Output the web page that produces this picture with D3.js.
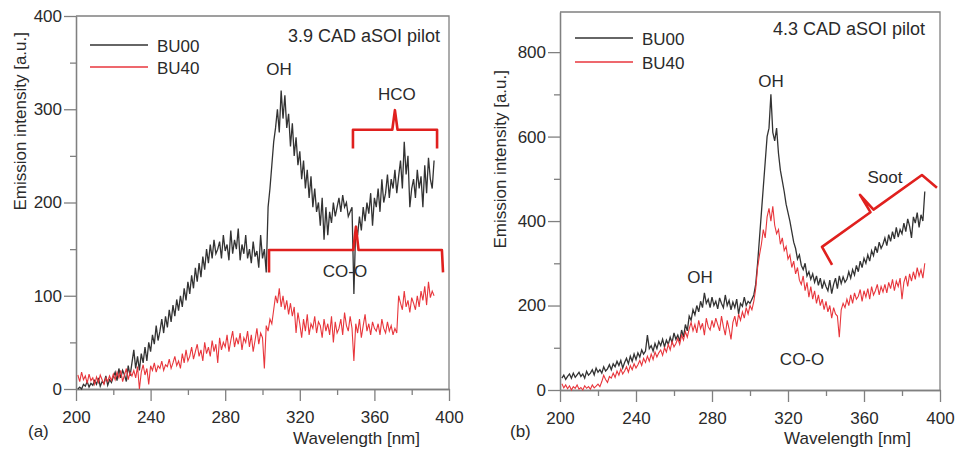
<!DOCTYPE html>
<html>
<head>
<meta charset="utf-8">
<script src="https://cdn.jsdelivr.net/npm/d3@7"></script>
<style>
  body { margin: 0; background: #fff; }
  svg { display: block; font-family: "Liberation Sans", Arial, sans-serif; }
</style>
</head>
<body>
<div id="chart"></div>
<script>
// sample grid of the spectrometer (nm)
var wavelengths = d3.range(201, 393);

// panel (a) 3.9 CAD aSOI pilot
var aBU00 = [
  0, 2, 0, 5, 3, 8, 2, 6, 4, 9,
  5, 12, 3, 8, 6, 14, 4, 10, 7, 13,
  18, 9, 22, 12, 20, 15, 8, 25, 14, 28,
  42, 22, 35, 20, 38, 28, 45, 30, 50, 40,
  58, 48, 68, 52, 62, 75, 60, 78, 66, 85,
  72, 90, 78, 96, 84, 100, 88, 108, 95, 115,
  102, 122, 108, 130, 115, 135, 120, 142, 128, 150,
  135, 155, 140, 160, 145, 150, 158, 140, 165, 148,
  155, 138, 170, 145, 160, 150, 172, 138, 155, 145,
  165, 140, 150, 135, 158, 142, 148, 130, 165, 140,
  150, 125, 195, 215, 240, 265, 280, 300, 275, 320,
  290, 315, 280, 295, 260, 285, 250, 270, 240, 255,
  225, 245, 215, 235, 205, 228, 195, 215, 190, 200,
  175, 205, 160, 195, 165, 190, 178, 200, 185, 195,
  205, 190, 208, 195, 200, 185, 190, 195, 102, 175,
  165, 185, 170, 195, 180, 200, 188, 210, 175, 205,
  195, 215, 190, 225, 200, 210, 230, 205, 225, 215,
  235, 210, 228, 245, 215, 265, 230, 250, 195, 215,
  225, 205, 235, 215, 228, 195, 240, 210, 248, 225,
  215, 245
];
var aBU40 = [
  15, 8, 18, 10, 14, 6, 16, 9, 12, 5,
  13, 7, 15, 10, 5, 12, 8, 14, 9, 16,
  10, 18, 12, 20, 8, 15, 22, 10, 18, 14,
  20, 12, 24, 0, 18, 26, 15, 22, 5, 25,
  20, 28, 18, 25, 22, 30, 20, 26, 24, 32,
  22, 28, 35, 25, 30, 22, 38, 28, 42, 30,
  35, 45, 32, 40, 48, 35, 42, 30, 50, 38,
  45, 35, 52, 40, 48, 28, 55, 42, 50, 45,
  58, 40, 52, 62, 45, 55, 48, 60, 42, 55,
  50, 62, 45, 58, 40, 52, 65, 48, 60, 55,
  22, 68, 62, 75, 70, 85, 100, 92, 108, 88,
  100, 85, 95, 80, 92, 78, 88, 60, 82, 70,
  55, 75, 62, 80, 58, 70, 65, 78, 60, 72,
  68, 55, 75, 62, 70, 58, 78, 50, 72, 60,
  65, 75, 58, 82, 68, 62, 78, 65, 30, 70,
  60, 75, 55, 68, 80, 62, 70, 58, 72, 65,
  62, 70, 58, 75, 65, 60, 72, 62, 68, 58,
  65, 60, 100, 92, 85, 105, 88, 95, 82, 98,
  92, 85, 100, 88, 105, 95, 110, 90, 115, 98,
  105, 100
];

// panel (b) 4.3 CAD aSOI pilot
var bBU00 = [
  28, 35, 25, 32, 38, 28, 40, 30, 36, 42,
  32, 38, 28, 44, 35, 40, 48, 36, 52, 42,
  48, 40, 55, 45, 50, 60, 48, 62, 55, 68,
  58, 70, 52, 65, 75, 62, 80, 68, 85, 72,
  88, 78, 95, 85, 92, 130, 98, 105, 92, 110,
  98, 115, 105, 120, 102, 118, 108, 125, 112, 135,
  120, 130, 115, 142, 125, 155, 140, 175, 165, 190,
  178, 200, 185, 210, 195, 230, 205, 215, 195, 220,
  200, 210, 192, 218, 205, 195, 225, 200, 212, 190,
  208, 195, 215, 180, 205, 198, 220, 200, 210, 205,
  215, 225, 250, 300, 360, 420, 480, 540, 600, 620,
  700, 610, 590, 620, 560, 520, 495, 470, 440, 420,
  400, 375, 350, 335, 310, 320, 295, 285, 300, 270,
  280, 262, 275, 255, 270, 248, 265, 240, 258, 245,
  235, 260, 228, 250, 265, 240, 270, 252, 268, 255,
  262, 280, 265, 285, 272, 295, 280, 305, 290, 312,
  300, 320, 305, 330, 318, 340, 325, 350, 335, 345,
  360, 342, 368, 352, 375, 358, 385, 362, 380, 370,
  395, 375, 405, 388, 360, 410, 395, 420, 385, 415,
  400, 470
];
var bBU40 = [
  15, 5, 12, 3, 10, 0, 8, 4, 12, 2,
  6, 0, 10, 4, 8, 2, 12, 5, 9, 14,
  8, 20, 35, 25, 18, 32, 28, 40, 30, 45,
  35, 50, 38, 45, 55, 42, 58, 48, 62, 52,
  60, 70, 58, 75, 65, 80, 68, 85, 72, 90,
  78, 88, 95, 82, 100, 90, 108, 95, 115, 102,
  110, 122, 108, 130, 118, 138, 125, 145, 160, 140,
  155, 135, 165, 145, 158, 130, 170, 150, 142, 165,
  148, 170, 155, 140, 175, 150, 130, 165, 145, 120,
  160, 175, 150, 180, 165, 185, 170, 195, 180, 200,
  190, 210, 240, 290, 320, 345, 380, 360, 410, 430,
  400, 435, 390, 370, 380, 345, 360, 330, 340, 310,
  320, 290, 305, 275, 290, 260, 250, 270, 235, 255,
  220, 245, 215, 235, 205, 225, 200, 215, 190, 210,
  185, 200, 170, 195, 180, 175, 125, 190, 205, 195,
  215, 200, 225, 205, 230, 215, 222, 238, 210, 235,
  220, 240, 215, 245, 225, 235, 250, 225, 245, 232,
  250, 230, 255, 240, 262, 235, 258, 245, 265, 215,
  255, 270, 245, 275, 258, 280, 262, 290, 270, 285,
  265, 300
];

var seriesNames = ["BU00", "BU40"];
var xTicks = [200, 240, 280, 320, 360, 400];
var xMinorTicks = [220, 260, 300, 340, 380];
var aYTicks = [0, 100, 200, 300, 400];
var aYMinorTicks = [50, 150, 250, 350];
var bYTicks = [0, 200, 400, 600, 800];
var bYMinorTicks = [100, 300, 500, 700];

// band annotations, in data units
var aLabels = [
  { text: "OH", x: 308.8, y: 337 },
  { text: "HCO", x: 372, y: 310 },
  { text: "CO-O", x: 344.2, y: 120 }
];
var bLabels = [
  { text: "OH", x: 311.1, y: 717 },
  { text: "OH", x: 273.7, y: 253 },
  { text: "CO-O", x: 327.4, y: 59 },
  { text: "Soot", x: 371, y: 490 }
];
// braces: [from end, corner, tip base, tip, tip base, corner, to end]
var aBraces = [
  [[348.5, 258], [348.5, 278], [369.6, 278], [371, 299], [372.4, 278], [393.6, 278], [393.6, 258]],
  [[303.5, 125], [303.5, 149], [348.7, 149], [350.1, 174], [351.5, 149], [396.2, 149], [396.8, 125]]
];
var bBraces = [
  [[343.2, 296], [337.9, 339], [363.4, 421], [357.9, 462], [365.0, 427], [390.5, 509], [398.4, 479]]
];

var W = 955, H = 449;
var black = "#333333", red = "#e8363c", braceRed = "#e0201e", axisGrey = "#808080", textCol = "#2a2a2a";

var svg = d3.select("#chart").append("svg")
  .attr("width", W)
  .attr("height", H);

function drawPanel(cfg) {
  var x = d3.scaleLinear().domain([200, 400]).range([cfg.left, cfg.right]);
  var y = d3.scaleLinear().domain([0, cfg.yMax]).range([cfg.bottom, cfg.top]);
  var g = svg.append("g");

  // frame (top + right)
  g.append("path")
    .attr("d", "M" + cfg.left + "," + cfg.top + "H" + cfg.right + "V" + cfg.bottom)
    .attr("fill", "none")
    .attr("stroke", axisGrey)
    .attr("stroke-width", 1.3);

  // axes
  g.append("g")
    .attr("transform", "translate(0," + cfg.bottom + ")")
    .call(d3.axisBottom(x).tickValues(xTicks).tickSize(12).tickSizeOuter(0).tickPadding(10));
  g.append("g")
    .attr("transform", "translate(0," + cfg.bottom + ")")
    .call(d3.axisBottom(x).tickValues(xMinorTicks).tickSize(6).tickSizeOuter(0).tickFormat(""));
  g.append("g")
    .attr("transform", "translate(" + cfg.left + ",0)")
    .call(d3.axisLeft(y).tickValues(cfg.yTicks).tickSize(12).tickSizeOuter(0).tickPadding(2));
  g.append("g")
    .attr("transform", "translate(" + cfg.left + ",0)")
    .call(d3.axisLeft(y).tickValues(cfg.yMinor).tickSize(6).tickSizeOuter(0).tickFormat(""));

  g.selectAll(".domain, .tick line").attr("stroke", axisGrey).attr("stroke-width", 1.3);
  g.selectAll(".tick text")
    .attr("fill", textCol)
    .style("font-size", "17px")
    .style("font-family", "'Liberation Sans', Arial, sans-serif");

  // spectra
  var line = d3.line()
    .x(function(d) { return x(d[0]); })
    .y(function(d) { return y(d[1]); });

  cfg.series.forEach(function(s, i) {
    g.append("path")
      .datum(d3.zip(wavelengths, s))
      .attr("d", line)
      .attr("fill", "none")
      .attr("stroke", i === 0 ? black : red)
      .attr("stroke-width", i === 0 ? 1.3 : 1.1)
      .attr("stroke-linejoin", "miter");
  });

  // braces
  cfg.braces.forEach(function(b) {
    g.append("path")
      .attr("d", line(b))
      .attr("fill", "none")
      .attr("stroke", braceRed)
      .attr("stroke-width", 2.6)
      .attr("stroke-linejoin", "round");
  });

  // band labels
  cfg.labels.forEach(function(l) {
    g.append("text")
      .attr("x", x(l.x))
      .attr("y", y(l.y))
      .attr("text-anchor", "middle")
      .attr("fill", textCol)
      .style("font-size", "17px")
      .text(l.text);
  });

  // legend
  seriesNames.forEach(function(name, i) {
    var ly = cfg.legendY + i * cfg.legendGap;
    g.append("line")
      .attr("x1", cfg.legendX).attr("x2", cfg.legendX + 58)
      .attr("y1", ly).attr("y2", ly)
      .attr("stroke", i === 0 ? black : red)
      .attr("stroke-width", 1.5);
    g.append("text")
      .attr("x", cfg.legendX + 67)
      .attr("y", ly + 7)
      .attr("fill", textCol)
      .style("font-size", "17px")
      .text(name);
  });

  // titles
  g.append("text")
    .attr("x", cfg.titleX).attr("y", cfg.titleY)
    .attr("text-anchor", "end")
    .attr("fill", textCol)
    .style("font-size", "18px")
    .text(cfg.title);

  g.append("text")
    .attr("x", cfg.right - 29).attr("y", 444)
    .attr("text-anchor", "end")
    .attr("fill", textCol)
    .style("font-size", "17px")
    .text("Wavelength [nm]");

  g.append("text")
    .attr("transform", "translate(" + cfg.yLabelX + "," + cfg.yLabelTop + ") rotate(-90)")
    .attr("text-anchor", "end")
    .attr("fill", textCol)
    .style("font-size", "17px")
    .text("Emission intensity [a.u.]");

  g.append("text")
    .attr("x", cfg.tagX).attr("y", 437)
    .attr("fill", textCol)
    .style("font-size", "17px")
    .text(cfg.tag);
}

drawPanel({
  left: 76, right: 449, top: 16, bottom: 389, yMax: 400,
  yTicks: aYTicks, yMinor: aYMinorTicks,
  series: [aBU00, aBU40], braces: aBraces, labels: aLabels,
  legendX: 90, legendY: 45, legendGap: 22,
  title: "3.9 CAD aSOI pilot", titleX: 440, titleY: 42,
  yLabelX: 26, yLabelTop: 32, tag: "(a)", tagX: 28
});

drawPanel({
  left: 560, right: 940, top: 12, bottom: 390, yMax: 895,
  yTicks: bYTicks, yMinor: bYMinorTicks,
  series: [bBU00, bBU40], braces: bBraces, labels: bLabels,
  legendX: 575, legendY: 38, legendGap: 24,
  title: "4.3 CAD aSOI pilot", titleX: 925, titleY: 35,
  yLabelX: 506, yLabelTop: 70, tag: "(b)", tagX: 510
});
</script>
</body>
</html>
